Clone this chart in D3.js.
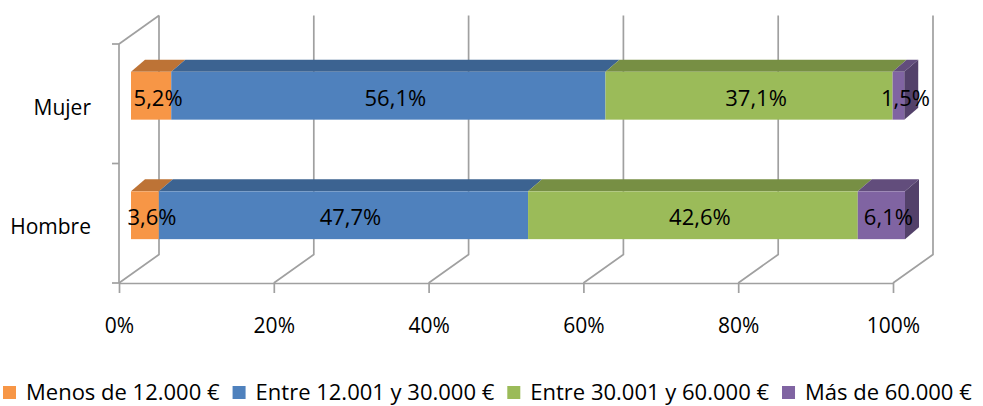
<!DOCTYPE html>
<html>
<head>
<meta charset="utf-8">
<script src="https://cdn.jsdelivr.net/npm/d3@7"></script>
<style>
  html, body { margin: 0; padding: 0; background: #fff; }
  svg { display: block; font-family: 'Open Sans', sans-serif; }
</style>
</head>
<body>
<svg id="chart" width="983" height="406"></svg>
<script>
// data
const categories = ['Mujer', 'Hombre'];
const seriesNames = ['Menos de 12.000 €', 'Entre 12.001 y 30.000 €', 'Entre 30.001 y 60.000 €', 'Más de 60.000 €'];
const seriesColors = ['#F79646', '#4F81BD', '#9BBB59', '#8064A2'];
const menos12 = [5.2, 3.6];
const entre12y30 = [56.1, 47.7];
const entre30y60 = [37.1, 42.6];
const mas60 = [1.5, 6.1];
const xTicks = [0, 20, 40, 60, 80, 100];

const fmt = (v) => `${String(v.toFixed(1)).replace('.', ',')}%`;

const rows = categories.map((cat, i) => ({
  cat,
  s0: menos12[i],
  s1: entre12y30[i],
  s2: entre30y60[i],
  s3: mas60[i]
}));
const keys = ['s0', 's1', 's2', 's3'];

// front plane of the box and depth offset of the back wall
const front = { left: 119, right: 893, top: 44, bottom: 283 };
const DX = 40;
const DY = 28.5;
// bar sits a bit behind the front plane and has its own depth
const barShift = { x: 12, y: -8 };
const barDepth = { x: 14, y: 12 };
const gridColor = '#a0a0a0';

const svg = d3.select('#chart');

const x = d3.scaleLinear().domain([0, 100]).range([front.left, front.right]);
const y = d3.scaleBand().domain(categories).range([front.top, front.bottom]).padding(0);
const barH = y.bandwidth() * 0.4;

// back wall gridlines that fold down onto the floor
const grid = svg.append('g').attr('class', 'grid')
  .attr('fill', 'none')
  .attr('stroke', gridColor)
  .attr('stroke-width', 1.7);

grid.selectAll('polyline.gl')
  .data(xTicks)
  .join('polyline')
  .attr('class', 'gl')
  .attr('points', (t) => [
    [x(t) + DX, front.top - DY],
    [x(t) + DX, front.bottom - DY],
    [x(t), front.bottom]
  ].join(' '));

// left wall top edge
grid.append('line')
  .attr('x1', x(0) + DX).attr('y1', front.top - DY)
  .attr('x2', x(0)).attr('y2', front.top);

// category axis (front left edge) with ticks on band boundaries
grid.append('line')
  .attr('x1', x(0)).attr('y1', front.top)
  .attr('x2', x(0)).attr('y2', front.bottom);

const bounds = categories.map((c) => y(c)).concat([front.bottom]);
grid.selectAll('line.ytick')
  .data(bounds)
  .join('line')
  .attr('class', 'ytick')
  .attr('x1', x(0) - 7).attr('x2', x(0))
  .attr('y1', (d) => d).attr('y2', (d) => d);

// value axis on the floor front edge
const xAxis = d3.axisBottom(x)
  .tickValues(xTicks)
  .tickSize(10)
  .tickSizeOuter(0)
  .tickFormat((d) => `${d}%`);

const axisG = svg.append('g')
  .attr('transform', `translate(0,${front.bottom})`)
  .call(xAxis);

axisG.select('.domain').attr('stroke', gridColor).attr('stroke-width', 1.7);
axisG.selectAll('.tick line').attr('stroke', gridColor).attr('stroke-width', 1.7);
axisG.selectAll('.tick text')
  .attr('y', 50)
  .attr('dy', null)
  .attr('fill', '#000')
  .attr('font-size', 21)
  .attr('font-family', "'Open Sans', sans-serif");

// category labels
svg.append('g').selectAll('text')
  .data(categories)
  .join('text')
  .attr('x', 91)
  .attr('y', (d) => y(d) + y.bandwidth() / 2 + 11)
  .attr('text-anchor', 'end')
  .attr('font-size', 21)
  .attr('fill', '#000')
  .text((d) => d);

// stacked 3d bars
const stack = d3.stack().keys(keys)(rows);
const bx = (v) => x(v) + barShift.x;
const faceTop = (cat) => y(cat) + y.bandwidth() / 2 - barH / 2 + barShift.y;

const bars = svg.append('g').attr('class', 'bars');

stack.forEach((layer, si) => {
  const base = d3.color(seriesColors[si]);
  const isLast = si === stack.length - 1;
  const g = bars.append('g').attr('class', `series-${si}`);

  layer.forEach((seg) => {
    const cat = seg.data.cat;
    const x0 = bx(seg[0]);
    const x1 = bx(seg[1]);
    const y0 = faceTop(cat);

    // top face
    g.append('polygon')
      .attr('points', [
        [x0, y0], [x1, y0],
        [x1 + barDepth.x, y0 - barDepth.y], [x0 + barDepth.x, y0 - barDepth.y]
      ].join(' '))
      .attr('fill', base.darker(0.75));

    // right face only where the bar ends
    if (isLast) {
      g.append('polygon')
        .attr('points', [
          [x1, y0], [x1 + barDepth.x, y0 - barDepth.y],
          [x1 + barDepth.x, y0 - barDepth.y + barH], [x1, y0 + barH]
        ].join(' '))
        .attr('fill', base.darker(1.2));
    }

    // front face
    g.append('rect')
      .attr('x', x0)
      .attr('y', y0)
      .attr('width', Math.max(0, x1 - x0))
      .attr('height', barH)
      .attr('fill', base);
  });
});

// data labels, centred on the middle depth of each segment
const labels = svg.append('g').attr('class', 'labels');
stack.forEach((layer) => {
  layer.forEach((seg) => {
    const cat = seg.data.cat;
    labels.append('text')
      .attr('x', (bx(seg[0]) + bx(seg[1])) / 2 + barDepth.x / 2)
      .attr('y', faceTop(cat) + barH / 2 + 10)
      .attr('text-anchor', 'middle')
      .attr('font-size', 22)
      .attr('fill', '#000')
      .text(fmt(seg[1] - seg[0]));
  });
});

// legend, laid out left to right
const legend = svg.append('g').attr('class', 'legend');
let lx = 3;
seriesNames.forEach((name, i) => {
  legend.append('rect')
    .attr('x', lx).attr('y', 386)
    .attr('width', 13).attr('height', 13)
    .attr('fill', seriesColors[i]);
  const t = legend.append('text')
    .attr('x', lx + 23)
    .attr('y', 400)
    .attr('font-size', 22)
    .attr('fill', '#000')
    .text(name);
  lx += 23 + t.node().getComputedTextLength() + 13;
});
</script>
</body>
</html>
